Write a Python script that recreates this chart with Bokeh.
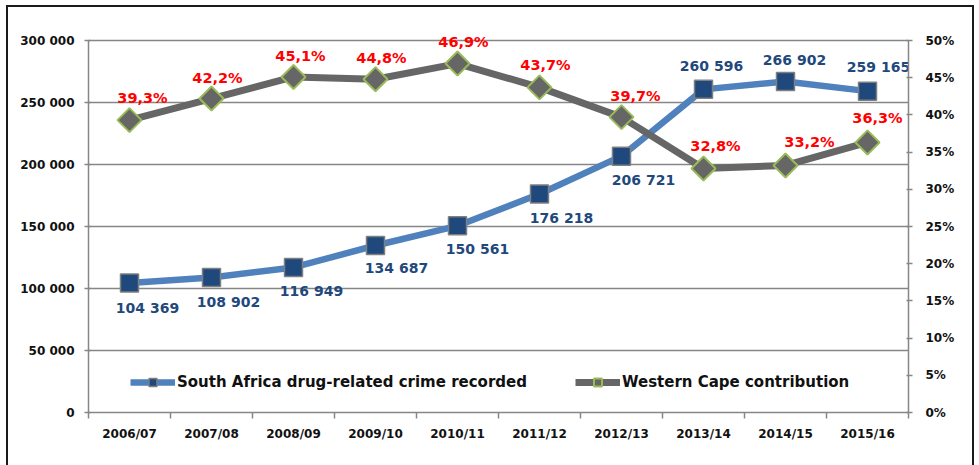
from bokeh.plotting import figure
from bokeh.models import (ColumnDataSource, LinearAxis, Range1d, FixedTicker,
                          Legend, LegendItem)
from bokeh.core.properties import value
from bokeh.embed import file_html
from bokeh.resources import INLINE
import math

# ---- data ----
years = ["2006/07", "2007/08", "2008/09", "2009/10", "2010/11",
         "2011/12", "2012/13", "2013/14", "2014/15", "2015/16"]
sa_crimes = [104369, 108902, 116949, 134687, 150561,
             176218, 206721, 260596, 266902, 259165]
wc_share = [39.3, 42.2, 45.1, 44.8, 46.9, 43.7, 39.7, 32.8, 33.2, 36.3]
left_ticks = [0, 50000, 100000, 150000, 200000, 250000, 300000]
right_ticks = [0, 5, 10, 15, 20, 25, 30, 35, 40, 45, 50]

# ---- label placement (style only, screen px, +y = down) ----
sa_dx = [18, 17, 18, 21, 20, 22, 22, 8, 9, 11]
sa_dy = [25, 25, 24, 23, 23, 24, 24, -23, -22, -24]
wc_dx = [13, 6, 7, 6, 6, 6, 14, 12, 24, 10]
wc_dy = [-22, -21, -21, -21, -22, -22, -21, -22, -23, -24]

FONT = "DejaVu Sans"

# layout: axis span 372px, frame extended 12px above so labels are not clipped
AXIS_PX = 372
EXTRA_PX = 12
scale_top = (AXIS_PX + EXTRA_PX) / AXIS_PX


def fmt_int(v):
    return f"{v:,}".replace(",", " ")


def fmt_pct(v):
    return f"{v:.1f}".replace(".", ",") + "%"


xs = [i + 0.5 for i in range(len(years))]

src_sa = ColumnDataSource(dict(x=xs, y=sa_crimes,
                               lbl=[fmt_int(v) for v in sa_crimes],
                               dx=sa_dx, dy=sa_dy))
src_wc = ColumnDataSource(dict(x=xs, y=wc_share,
                               lbl=[fmt_pct(v) for v in wc_share],
                               dx=wc_dx, dy=wc_dy))

p = figure(width=968, height=460, output_backend="svg", toolbar_location=None,
           x_range=Range1d(0, len(years)),
           y_range=Range1d(0, left_ticks[-1] * scale_top),
           min_border_left=80, min_border_right=68,
           min_border_top=33 - EXTRA_PX,
           min_border_bottom=55, tools="")
p.styles = {"border": "2px solid #1a1a1a", "border-bottom": "none",
            "box-sizing": "border-box", "margin-left": "6px",
            "margin-top": "5px"}
p.outline_line_color = None
p.background_fill_color = "white"
p.border_fill_color = "white"
p.extra_y_ranges = {"pct": Range1d(0, right_ticks[-1] * scale_top)}

# grid
p.xgrid.visible = False
p.ygrid.ticker = FixedTicker(ticks=left_ticks)
p.ygrid.grid_line_color = "#868686"
p.ygrid.grid_line_width = 1.5

# x axis
xa = p.xaxis[0]
xa.ticker = FixedTicker(ticks=xs, minor_ticks=list(range(len(years) + 1)))
xa.major_label_overrides = {x: y for x, y in zip(xs, years)}
xa.major_tick_line_color = None
xa.major_tick_out = 0
xa.minor_tick_out = 6
xa.minor_tick_in = 0
xa.minor_tick_line_color = "#868686"
xa.minor_tick_line_width = 1.5
xa.axis_line_color = "#868686"
xa.axis_line_width = 1.5
xa.major_label_standoff = 8
xa.major_label_text_font = FONT
xa.major_label_text_font_style = "bold"
xa.major_label_text_font_size = "12px"
xa.major_label_text_color = "#111111"

# left axis
ya = p.yaxis[0]
ya.ticker = FixedTicker(ticks=left_ticks)
ya.bounds = (left_ticks[0], left_ticks[-1])
ya.major_label_overrides = {t: fmt_int(t) for t in left_ticks}
ya.minor_tick_line_color = None
ya.major_tick_out = 4
ya.major_tick_in = 2
ya.major_tick_line_color = "#868686"
ya.major_tick_line_width = 1.5
ya.axis_line_color = "#868686"
ya.axis_line_width = 1.5
ya.major_label_standoff = 10
ya.major_label_text_font = FONT
ya.major_label_text_font_style = "bold"
ya.major_label_text_font_size = "12px"
ya.major_label_text_color = "#111111"

# right axis
ra = LinearAxis(y_range_name="pct", ticker=FixedTicker(ticks=right_ticks))
ra.bounds = (right_ticks[0], right_ticks[-1])
ra.major_label_overrides = {t: f"{t}%" for t in right_ticks}
ra.minor_tick_line_color = None
ra.major_tick_out = 4
ra.major_tick_in = 2
ra.major_tick_line_color = "#868686"
ra.major_tick_line_width = 1.5
ra.axis_line_color = "#868686"
ra.axis_line_width = 1.5
ra.major_label_standoff = 13
ra.major_label_text_font = FONT
ra.major_label_text_font_style = "bold"
ra.major_label_text_font_size = "12px"
ra.major_label_text_color = "#111111"
p.add_layout(ra, "right")

# series
l_sa = p.line("x", "y", source=src_sa, line_color="#4F81BD", line_width=6.5)
m_sa = p.scatter("x", "y", source=src_sa, marker="square", size=18,
                 fill_color="#1F497D", line_color="#7F7F7F", line_width=1.5)
l_wc = p.line("x", "y", source=src_wc, y_range_name="pct",
              line_color="#666666", line_width=7)
m_wc = p.scatter("x", "y", source=src_wc, y_range_name="pct", marker="square",
                 angle=math.pi / 4, size=17, fill_color="#666666",
                 line_color="#9BBB59", line_width=2)

p.text("x", "y", text="lbl", source=src_sa, x_offset="dx", y_offset="dy",
       text_align="center", text_baseline="middle",
       text_font=value(FONT), text_font_style="bold",
       text_font_size="14px", text_color="#1F497D")
p.text("x", "y", text="lbl", source=src_wc, y_range_name="pct",
       x_offset="dx", y_offset="dy",
       text_align="center", text_baseline="middle",
       text_font=value(FONT), text_font_style="bold",
       text_font_size="14.5px", text_color="#FF0000")

legend = Legend(items=[
    LegendItem(label="South Africa drug-related crime recorded",
               renderers=[l_sa, m_sa]),
    LegendItem(label="Western Cape contribution", renderers=[l_wc, m_wc]),
], location=(42, 20), orientation="horizontal")
legend.glyph_width = 45
legend.glyph_height = 20
legend.label_standoff = 2
legend.spacing = 48
legend.padding = 0
legend.margin = 0
legend.border_line_color = None
legend.background_fill_alpha = 0
legend.label_text_font = FONT
legend.label_text_font_style = "bold"
legend.label_text_font_size = "15px"
legend.label_text_color = "#111111"
p.add_layout(legend, "center")

open("out.html", "w").write(file_html(p, INLINE))
